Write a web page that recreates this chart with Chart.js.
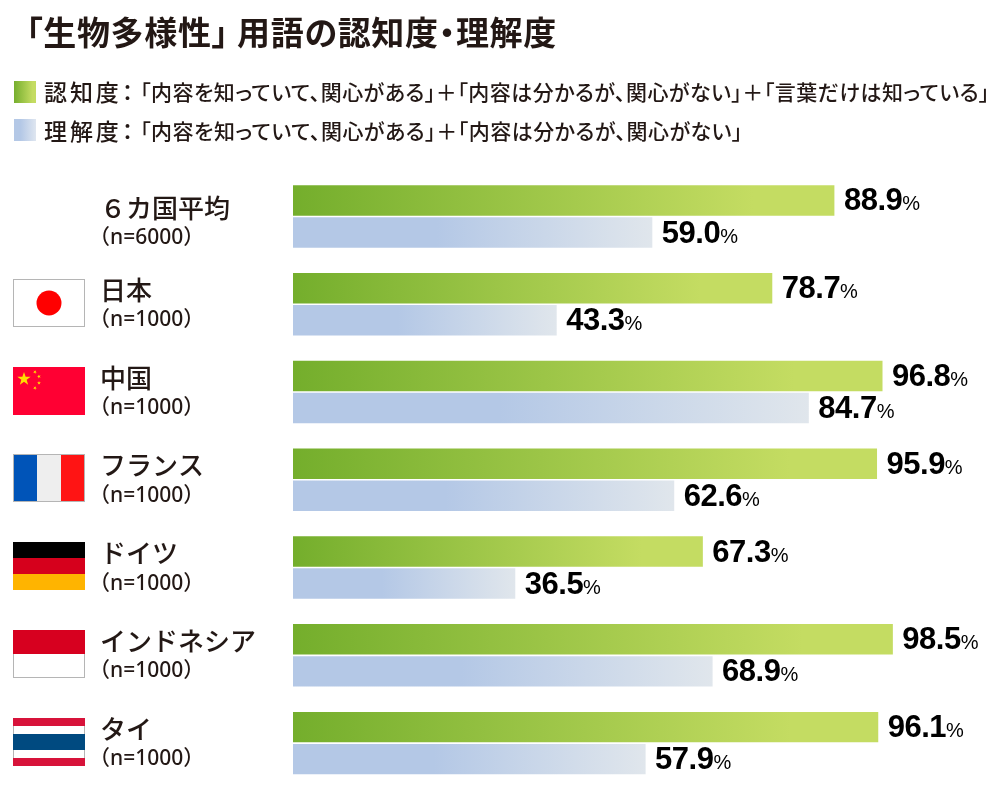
<!DOCTYPE html>
<html lang="ja">
<head>
<meta charset="utf-8">
<title>生物多様性</title>
<script src="https://cdn.jsdelivr.net/npm/chart.js@4"></script>
<style>
  html, body { margin: 0; padding: 0; background: #fff; }
  #wrap { position: relative; width: 1000px; height: 793px; overflow: hidden; }
  canvas { position: absolute; left: 0; top: 0; }
  .txt {
    position: absolute; white-space: nowrap; color: #231815; line-height: 1;
    font-family: "Noto Sans CJK JP", "Noto Sans", sans-serif;
    font-feature-settings: "palt";
  }
  .box { position: absolute; left: 14px; width: 22px; height: 22px; }
</style>
</head>
<body>
<div id="wrap">
  <canvas id="bioChart" width="1000" height="793"></canvas>
  <div class="txt" id="title" style="font-size:33px;font-weight:700"></div>
  <div class="box" style="top:81px;background:linear-gradient(90deg,#76ae2e,#c4dc62 85%)"></div>
  <div class="box" style="top:119px;background:linear-gradient(90deg,#b4c8e6 30%,#dfe6f0)"></div>
  <div class="txt" id="name0" style="font-size:23px;font-weight:500"></div>
  <div class="txt" id="note0" style="font-size:21px;font-weight:500"></div>
  <div class="txt" id="name1" style="font-size:23px;font-weight:500"></div>
  <div class="txt" id="note1" style="font-size:21px;font-weight:500"></div>
</div>
<script>
const titleText = '「生物多様性」 用語の認知度・理解度';
const seriesNames = ['認知度', '理解度'];
const seriesNotes = [
  '「内容を知っていて、関心がある」＋「内容は分かるが、関心がない」＋「言葉だけは知っている」',
  '「内容を知っていて、関心がある」＋「内容は分かるが、関心がない」'
];
const countries = ['６カ国平均', '日本', '中国', 'フランス', 'ドイツ', 'インドネシア', 'タイ'];
const samples = ['（n=6000）', '（n=1000）', '（n=1000）', '（n=1000）', '（n=1000）', '（n=1000）', '（n=1000）'];
const awareness = [88.9, 78.7, 96.8, 95.9, 67.3, 98.5, 96.1];
const understanding = [59.0, 43.3, 84.7, 62.6, 36.5, 68.9, 57.9];

const FONT = '"Noto Sans CJK JP", "Noto Sans", sans-serif';
const INK = '#231815';

function greenFill(ctx, x0, x1) {
  const g = ctx.createLinearGradient(x0, 0, x1, 0);
  g.addColorStop(0, '#74ae2c');
  g.addColorStop(0.85, '#c4dc62');
  g.addColorStop(1, '#c4dc62');
  return g;
}
function blueFill(ctx, x0, x1) {
  const g = ctx.createLinearGradient(x0, 0, x1, 0);
  g.addColorStop(0, '#b4c8e6');
  g.addColorStop(0.4, '#b4c8e6');
  g.addColorStop(1, '#e0e6ec');
  return g;
}
function barFill(maker) {
  return (c) => {
    const x = c.chart.scales.x;
    if (!x || c.raw === undefined) return '#ccc';
    const x0 = x.getPixelForValue(0);
    const x1 = x.getPixelForValue(c.raw);
    if (!Number.isFinite(x0) || !Number.isFinite(x1)) return '#ccc';
    return maker(c.chart.ctx, x0, x1);
  };
}

// header text stays in the DOM because canvas can't do palt; spacing is fitted to the width in the picture
function placeText(id, text, left, top, width) {
  const el = document.getElementById(id);
  el.textContent = text;
  el.style.left = left + 'px';
  el.style.top = top + 'px';
  const w = el.getBoundingClientRect().width;
  el.style.letterSpacing = ((width - w) / text.length) + 'px';
}
placeText('title', titleText, 26, 15, 531);
placeText('name0', seriesNames[0] + '：', 44, 80, 92);
placeText('note0', seriesNotes[0], 140, 81, 850);
placeText('name1', seriesNames[1] + '：', 44, 119, 92);
placeText('note1', seriesNotes[1], 140, 120, 603);

function rect(ctx, color, x, y, w, h) {
  ctx.fillStyle = color;
  ctx.fillRect(x, y, w, h);
}
function outline(ctx, x, y, w, h) {
  ctx.strokeStyle = '#b5b5b5';
  ctx.lineWidth = 1;
  ctx.strokeRect(x + 0.5, y + 0.5, w - 1, h - 1);
}
function star(ctx, cx, cy, r, rot) {
  ctx.beginPath();
  for (let i = 0; i < 10; i++) {
    const a = rot + i * Math.PI / 5 - Math.PI / 2;
    const q = i % 2 ? r * 0.4 : r;
    ctx.lineTo(cx + Math.cos(a) * q, cy + Math.sin(a) * q);
  }
  ctx.closePath();
  ctx.fill();
}

const flags = {
  '日本': (ctx, x, y, w, h) => {
    rect(ctx, '#fff', x, y, w, h);
    outline(ctx, x, y, w, h);
    ctx.fillStyle = '#ff0000';
    ctx.beginPath();
    ctx.arc(x + w / 2, y + h / 2, 12.5, 0, Math.PI * 2);
    ctx.fill();
  },
  '中国': (ctx, x, y, w, h) => {
    rect(ctx, '#ff0033', x, y, w, h);
    ctx.fillStyle = '#ffdd00';
    star(ctx, x + 11, y + 12, 7, 0);
    star(ctx, x + 22, y + 5, 2, 0.5);
    star(ctx, x + 26, y + 9.5, 2, 0.9);
    star(ctx, x + 26, y + 16, 2, 0);
    star(ctx, x + 22, y + 21, 2, 0.5);
  },
  'フランス': (ctx, x, y, w, h) => {
    rect(ctx, '#eeeeee', x, y, w, h);
    rect(ctx, '#0054b8', x, y, w / 3, h);
    rect(ctx, '#ff1414', x + w * 2 / 3, y, w / 3, h);
    outline(ctx, x, y, w, h);
  },
  'ドイツ': (ctx, x, y, w, h) => {
    rect(ctx, '#000', x, y, w, h / 3);
    rect(ctx, '#d6001c', x, y + h / 3, w, h / 3);
    rect(ctx, '#ffb400', x, y + h * 2 / 3, w, h / 3);
  },
  'インドネシア': (ctx, x, y, w, h) => {
    rect(ctx, '#fff', x, y, w, h);
    outline(ctx, x, y, w, h);
    rect(ctx, '#d7001f', x, y, w, h / 2);
  },
  'タイ': (ctx, x, y, w, h) => {
    rect(ctx, '#fff', x, y, w, h);
    outline(ctx, x, y, w, h);
    rect(ctx, '#d7133a', x, y, w, h / 6);
    rect(ctx, '#004a80', x, y + h / 3, w, h / 3);
    rect(ctx, '#d7133a', x, y + h * 5 / 6, w, h / 6);
  }
};

const rowPlugin = {
  id: 'rowLabels',
  afterDraw(chart) {
    const ctx = chart.ctx;
    const yScale = chart.scales.y;
    const xScale = chart.scales.x;
    ctx.save();
    countries.forEach((name, i) => {
      const cy = yScale.getPixelForValue(i);
      const nudge = i === 0 ? 6 : 0;
      if (flags[name]) flags[name](ctx, 13, Math.round(cy - 25.5), 72, 48);
      ctx.textAlign = 'left';
      ctx.textBaseline = 'alphabetic';
      ctx.fillStyle = INK;
      ctx.font = '500 26px ' + FONT;
      ctx.fillText(name, 100, cy - 4.5 + nudge);
      ctx.font = '500 21px "Noto Sans", "Noto Sans CJK JP", sans-serif';
      ctx.fillText(samples[i], 89, cy + 22 + nudge);
    });
    chart.data.datasets.forEach((ds, d) => {
      chart.getDatasetMeta(d).data.forEach((bar, i) => {
        const v = ds.data[i].toFixed(1);
        const x = xScale.getPixelForValue(ds.data[i]) + 9.5;
        const y = bar.y + 10;
        ctx.fillStyle = '#000';
        ctx.textAlign = 'left';
        ctx.font = '700 31px "Liberation Sans", sans-serif';
        ctx.letterSpacing = '-0.5px';
        ctx.fillText(v, x, y);
        const w = ctx.measureText(v).width;
        ctx.letterSpacing = '0px';
        ctx.font = '400 20px "Liberation Sans", sans-serif';
        ctx.fillText('%', x + w, y);
      });
    });
    ctx.restore();
  }
};

new Chart(document.getElementById('bioChart'), {
  type: 'bar',
  data: {
    labels: countries,
    datasets: [
      { label: seriesNames[0], data: awareness, backgroundColor: barFill(greenFill), categoryPercentage: 0.73, barPercentage: 0.95 },
      { label: seriesNames[1], data: understanding, backgroundColor: barFill(blueFill), categoryPercentage: 0.73, barPercentage: 0.95 }
    ]
  },
  options: {
    indexAxis: 'y',
    responsive: false,
    animation: false,
    layout: { padding: { left: 293, top: 172.6, right: 98, bottom: 6 } },
    plugins: { legend: { display: false }, tooltip: { enabled: false } },
    scales: {
      x: { display: false, min: 0, max: 100 },
      y: { display: false }
    }
  },
  plugins: [rowPlugin]
});
</script>
</body>
</html>
